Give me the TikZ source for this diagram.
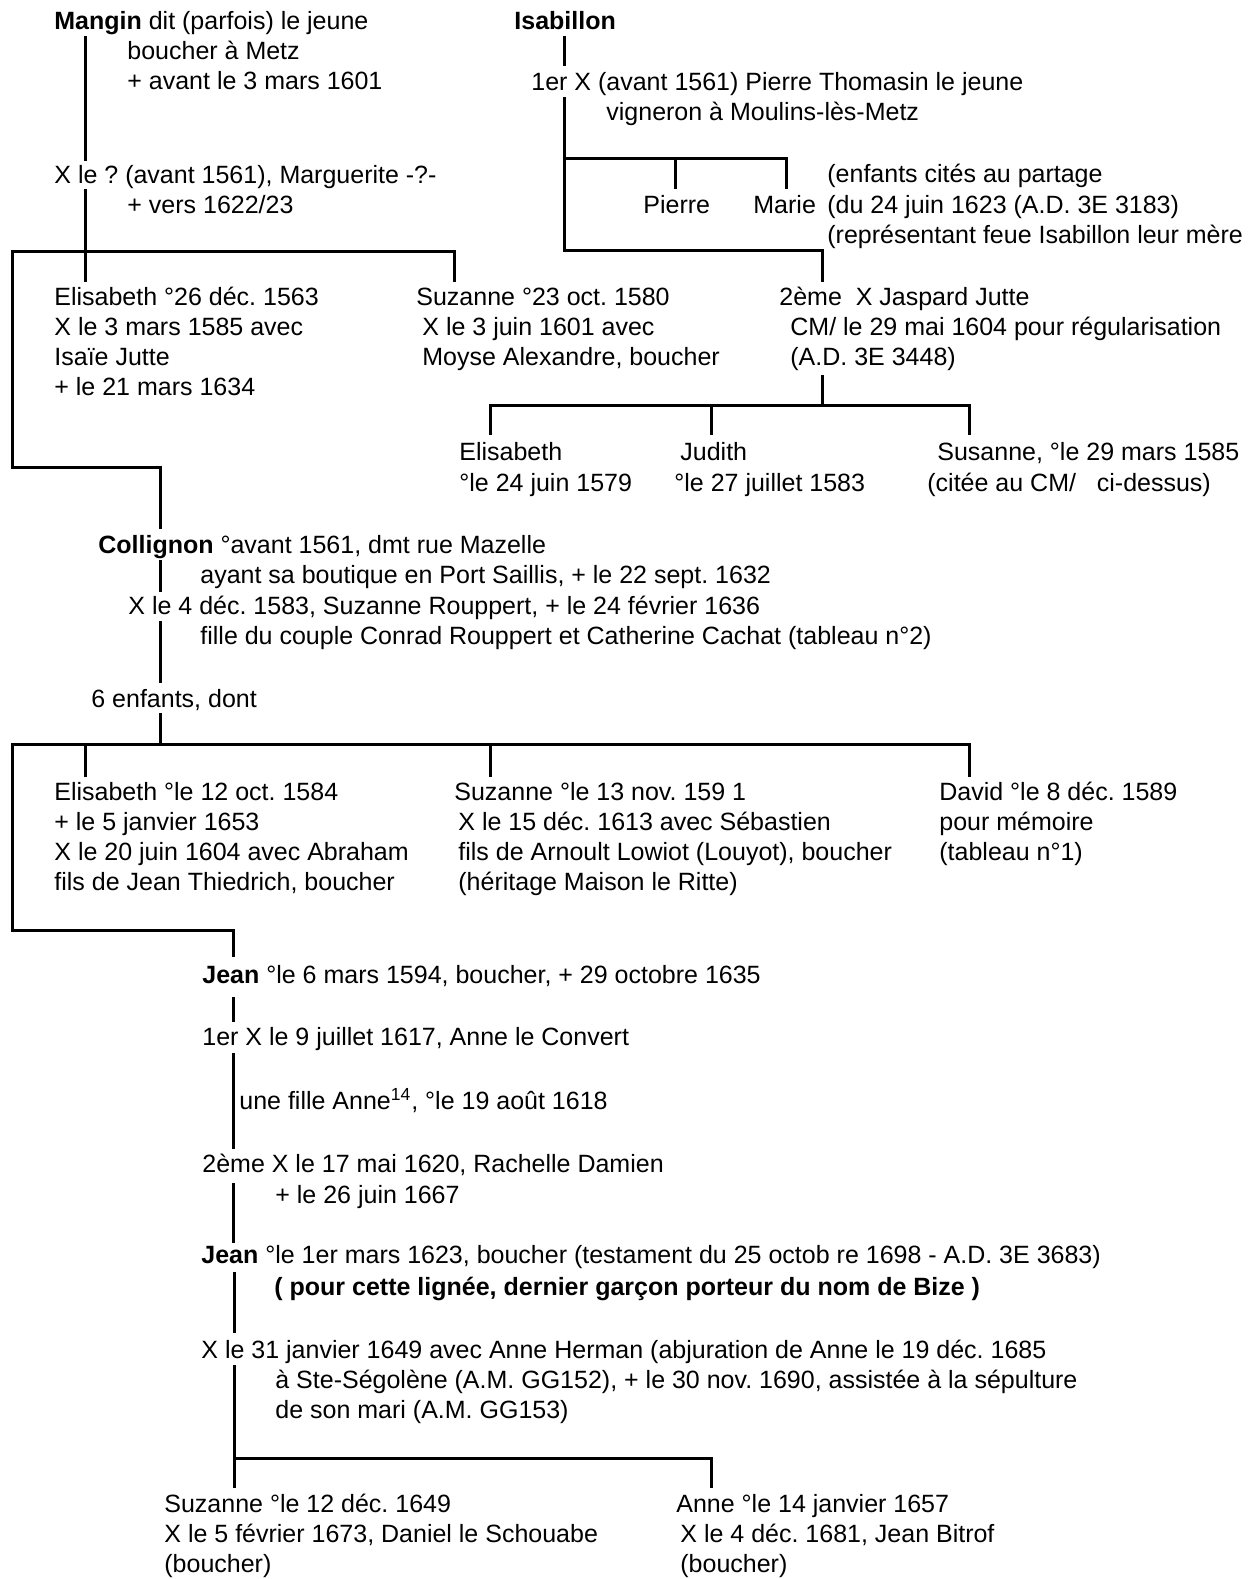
\documentclass[tikz,border=0pt]{standalone}
\usepackage{fontspec}
\setmainfont{Liberation Sans}
\frenchspacing
\tikzset{
  entry/.style={anchor=base west,inner sep=0pt,font=\fontsize{12.5}{15}\selectfont},
  tree/.style={line width=1.5pt,line join=miter},
}
\begin{document}
\begin{tikzpicture}[x=0.5pt,y=-0.5pt]
\useasboundingbox (0,0) rectangle (1250,1579);
% Mangin
\node[entry] (mangin) at (54,29) {\textbf{Mangin} dit (parfois) le jeune};
\node[entry] (manginB) at (127,59) {boucher à Metz};
\node[entry] (manginC) at (127,89) {+ avant le 3 mars 1601};
\node[entry] (manginX) at (54,183) {X le ? (avant 1561), Marguerite -?-};
\node[entry] (manginXB) at (127,213) {+ vers 1622/23};
\node[entry] (elisA) at (54,305) {Elisabeth °26 déc. 1563};
\node[entry] (elisB) at (54,335) {X le 3 mars 1585 avec};
\node[entry] (elisC) at (54,365) {Isaïe Jutte};
\node[entry] (elisD) at (54,395) {+ le 21 mars 1634};
\node[entry] (suzA) at (416,305) {Suzanne °23 oct. 1580};
\node[entry] (suzB) at (422,335) {X le 3 juin 1601 avec};
\node[entry] (suzC) at (422,365) {Moyse Alexandre, boucher};
% Isabillon
\node[entry] (isab) at (514,29) {\textbf{Isabillon}};
\node[entry] (isabX) at (531,90) {1er X (avant 1561) Pierre Thomasin le jeune};
\node[entry] (isabXB) at (606,120) {vigneron à Moulins-lès-Metz};
\node[entry] (pierre) at (643,213) {Pierre};
\node[entry] (marie) at (753,213) {Marie};
\node[entry] (noteA) at (827,182) {(enfants cités au partage};
\node[entry] (noteB) at (827,213) {(du 24 juin 1623 (A.D. 3E 3183)};
\node[entry] (noteC) at (827,243) {(représentant feue Isabillon leur mère};
\node[entry] (jasA) at (779,305) {2ème\ \ X Jaspard Jutte};
\node[entry] (jasB) at (790,335) {CM/ le 29 mai 1604 pour régularisation};
\node[entry] (jasC) at (790,365) {(A.D. 3E 3448)};
\node[entry] (elis2A) at (459,460) {Elisabeth};
\node[entry] (elis2B) at (459,491) {°le 24 juin 1579};
\node[entry] (judA) at (680,460) {Judith};
\node[entry] (judB) at (674,491) {°le 27 juillet 1583};
\node[entry] (sus2A) at (937,460) {Susanne, °le 29 mars 1585};
\node[entry] (sus2B) at (927,491) {(citée au CM/\ \ \ ci-dessus)};
% Collignon
\node[entry] (col) at (98,553) {\textbf{Collignon} °avant 1561, dmt rue Mazelle};
\node[entry] (colB) at (200,583) {ayant sa boutique en Port Saillis, + le 22 sept. 1632};
\node[entry] (colX) at (128,614) {X le 4 déc. 1583, Suzanne Rouppert, + le 24 février 1636};
\node[entry] (colXB) at (200,644) {fille du couple Conrad Rouppert et Catherine Cachat (tableau n°2)};
\node[entry] (colKids) at (91,707) {6 enfants, dont};
\node[entry] (elis3A) at (54,800) {Elisabeth °le 12 oct. 1584};
\node[entry] (elis3B) at (54,830) {+ le 5 janvier 1653};
\node[entry] (elis3C) at (54,860) {X le 20 juin 1604 avec Abraham};
\node[entry] (elis3D) at (54,890) {fils de Jean Thiedrich, boucher};
\node[entry] (suz3A) at (454,800) {Suzanne °le 13 nov. 159 1};
\node[entry] (suz3B) at (458,830) {X le 15 déc. 1613 avec Sébastien};
\node[entry] (suz3C) at (458,860) {fils de Arnoult Lowiot (Louyot), boucher};
\node[entry] (suz3D) at (458,890) {(héritage Maison le Ritte)};
\node[entry] (davA) at (939,800) {David °le 8 déc. 1589};
\node[entry] (davB) at (939,830) {pour mémoire};
\node[entry] (davC) at (939,860) {(tableau n°1)};
% Jean
\node[entry] (jean) at (202,983) {\textbf{Jean} °le 6 mars 1594, boucher, + 29 octobre 1635};
\node[entry] (jeanX) at (202,1045) {1er X le 9 juillet 1617, Anne le Convert};
\node[entry] (anneF) at (239,1109) {une fille Anne\textsuperscript{14}, °le 19 août 1618};
\node[entry] (jeanXX) at (202,1172) {2ème X le 17 mai 1620, Rachelle Damien};
\node[entry] (jeanXXB) at (275,1203) {+ le 26 juin 1667};
\node[entry] (jean2) at (201,1263) {\textbf{Jean} °le 1er mars 1623, boucher (testament du 25 octob re 1698 - A.D. 3E 3683)};
\node[entry] (jean2B) at (274,1295) {\textbf{( pour cette lignée, dernier garçon porteur du nom de Bize )}};
\node[entry] (jean2X) at (201,1358) {X le 31 janvier 1649 avec Anne Herman (abjuration de Anne le 19 déc. 1685};
\node[entry] (jean2XB) at (275,1388) {à Ste-Ségolène (A.M. GG152), + le 30 nov. 1690, assistée à la sépulture};
\node[entry] (jean2XC) at (275,1418) {de son mari (A.M. GG153)};
\node[entry] (suz4A) at (164,1512) {Suzanne °le 12 déc. 1649};
\node[entry] (suz4B) at (164,1542) {X le 5 février 1673, Daniel le Schouabe};
\node[entry] (suz4C) at (164,1572) {(boucher)};
\node[entry] (anneA) at (676,1512) {Anne °le 14 janvier 1657};
\node[entry] (anneB) at (680,1542) {X le 4 déc. 1681, Jean Bitrof};
\node[entry] (anneC) at (680,1572) {(boucher)};
% tree lines, Mangin
\coordinate (mgA) at (85,36);
\coordinate (mgB) at (85,161);
\coordinate (mgC) at (85,189);
\coordinate (elisTop) at (85,282);
\coordinate (mgBus) at (12,251);
\coordinate (suzTop) at (454,282);
\coordinate (colKnee) at (160,467);
\coordinate (colTop) at (160,529);
\draw[tree] (mgA) -- (mgB);
\draw[tree] (mgC) -- (elisTop);
\draw[tree] (suzTop) |- (mgBus) |- (colKnee) -- (colTop);
% Isabillon
\coordinate (isA) at (564,36);
\coordinate (isB) at (564,66);
\coordinate (isC) at (564,97);
\coordinate (isBend) at (822,250);
\coordinate (jasTop) at (822,282);
\coordinate (kidBus) at (564,158);
\coordinate (pierreTop) at (675,189);
\coordinate (marieTop) at (786,189);
\draw[tree] (isA) -- (isB);
\draw[tree] (isC) |- (isBend) -- (jasTop);
\draw[tree] (kidBus) -| (marieTop);
\draw[tree] (pierreTop) -- (pierreTop |- kidBus);
\coordinate (jasBot) at (822,375);
\coordinate (jasBus) at (969,405);
\coordinate (elis2Top) at (490,435);
\coordinate (judTop) at (711,435);
\coordinate (sus2Top) at (969,435);
\draw[tree] (jasBot) -- (jasBot |- jasBus);
\draw[tree] (elis2Top) |- (jasBus) -- (sus2Top);
\draw[tree] (judTop) -- (judTop |- jasBus);
% Collignon
\coordinate (colA) at (160,560);
\coordinate (colAB) at (160,592);
\coordinate (colC) at (160,621);
\coordinate (colCD) at (160,683);
\coordinate (colE) at (160,713);
\coordinate (genBus) at (12,744);
\coordinate (elis3Top) at (85,777);
\coordinate (suz3Top) at (490,777);
\coordinate (davTop) at (969,777);
\coordinate (jeanKnee) at (233,930);
\coordinate (jeanTop) at (233,957);
\draw[tree] (colA) -- (colAB);
\draw[tree] (colC) -- (colCD);
\draw[tree] (colE) -- (colE |- genBus);
\draw[tree] (davTop) |- (genBus) |- (jeanKnee) -- (jeanTop);
\draw[tree] (elis3Top) -- (elis3Top |- genBus);
\draw[tree] (suz3Top) -- (suz3Top |- genBus);
% Jean
\coordinate (jnA) at (233,997);
\coordinate (jnB) at (233,1022);
\coordinate (jnC) at (233,1053);
\coordinate (jnD) at (233,1149);
\coordinate (jnE) at (233,1183);
\coordinate (jnF) at (233,1243);
\coordinate (jnG) at (234,1272);
\coordinate (jnH) at (234,1333);
\coordinate (jnI) at (234,1365);
\coordinate (suz4Top) at (234,1488);
\coordinate (anneBus) at (711,1458);
\coordinate (anneTop) at (711,1488);
\draw[tree] (jnA) -- (jnB);
\draw[tree] (jnC) -- (jnD);
\draw[tree] (jnE) -- (jnF);
\draw[tree] (jnG) -- (jnH);
\draw[tree] (jnI) -- (suz4Top);
\draw[tree] (jnI |- anneBus) -- (anneBus) -- (anneTop);
\end{tikzpicture}
\end{document}
